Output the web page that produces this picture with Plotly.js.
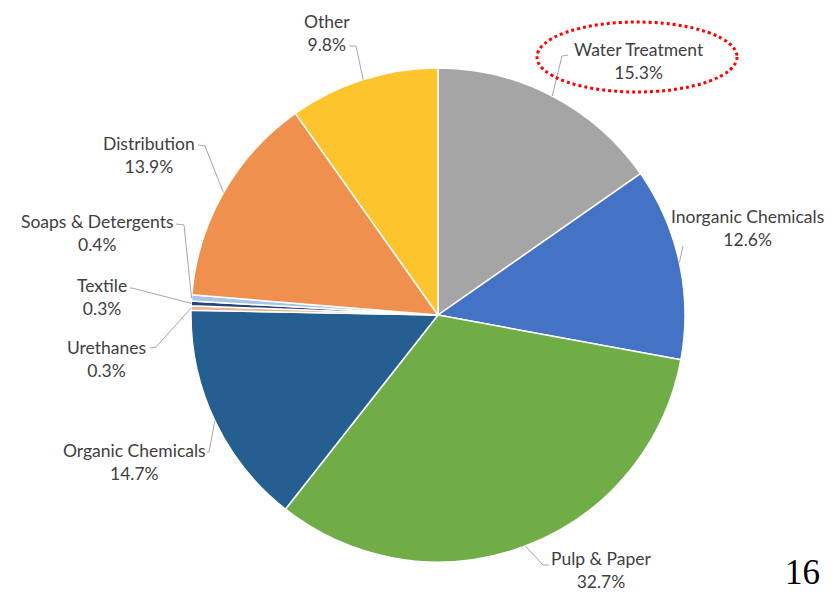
<!DOCTYPE html>
<html>
<head>
<meta charset="utf-8">
<script src="https://cdn.plot.ly/plotly-3.0.1.min.js"></script>
<style>html,body{margin:0;padding:0;background:#fff;}#chart{width:837px;height:593px;}</style>
</head>
<body>
<div id="chart"></div>
<script>
// ---- data ----
const categories = ['Water Treatment','Inorganic Chemicals','Pulp & Paper','Organic Chemicals','Urethanes','Textile','Soaps & Detergents','Distribution','Other'];
const shares = [15.3, 12.6, 32.7, 14.7, 0.3, 0.3, 0.4, 13.9, 9.8];
const sliceColors = ['#A5A5A5','#4472C4','#70AD47','#255E91','#E9B48F','#264478','#A9C4E4','#F0904E','#FEC42E'];
const pageNumber = '16';

// ---- layout helpers ----
const W = 837, H = 593;
const cx = 438, cy = 315, R = 247;
const px = x => x / W;
const py = y => 1 - y / H;

// label placement (pixel centres of label blocks), elbow and anchor of leader lines
const labelPlacement = [
  {c:[639,61],  elbow:[562,56],  anchor:[568,55]},
  {c:[747,228], elbow:[683,246], anchor:[683,246]},
  {c:[601,570], elbow:[543,565], anchor:[549,565]},
  {c:[134,462], elbow:[209,452], anchor:[207,452]},
  {c:[106,359], elbow:[156,347], anchor:[150,348]},
  {c:[102,297], elbow:[132,288], anchor:[130,288]},
  {c:[97,233],  elbow:[184,225], anchor:[176,224]},
  {c:[149,155], elbow:[205,146], anchor:[198,145]},
  {c:[327,33],  elbow:[356,46],  anchor:[349,46]}
];

const total = shares.reduce((a,b)=>a+b,0);
let cum = 0;
const annotations = [];
const shapes = [];
categories.forEach((cat, i) => {
  const mid = (cum + shares[i]/2) / total * 2 * Math.PI;
  cum += shares[i];
  const ex = cx + R * Math.sin(mid);
  const ey = cy - R * Math.cos(mid);
  const p = labelPlacement[i];
  shapes.push({
    type:'path', xref:'paper', yref:'paper',
    path:`M ${px(ex)} ${py(ey)} L ${px(p.elbow[0])} ${py(p.elbow[1])} L ${px(p.anchor[0])} ${py(p.anchor[1])}`,
    line:{color:'#A6A6A6', width:1}
  });
  annotations.push({
    xref:'paper', yref:'paper', x:px(p.c[0]), y:py(p.c[1]),
    xanchor:'center', yanchor:'middle', showarrow:false, align:'center', borderpad:0,
    text: cat + '<br>' + shares[i].toFixed(1) + '%',
    font:{family:'Lato, "Open Sans", sans-serif', size:17.5, color:'#404040'}
  });
});

// red dotted ellipse around Water Treatment label
shapes.push({
  type:'circle', xref:'paper', yref:'paper',
  x0:px(537), x1:px(737), y0:py(92), y1:py(22),
  line:{color:'#FF0000', width:3, dash:'dot'}
});

annotations.push({
  xref:'paper', yref:'paper', x:px(802), y:0,
  xanchor:'center', yanchor:'bottom', showarrow:false, borderpad:0,
  text: pageNumber,
  font:{family:'"Liberation Serif", "DejaVu Serif", serif', size:35, color:'#000'}
});

const trace = {
  type:'pie',
  labels: categories,
  values: shares,
  sort:false,
  direction:'clockwise',
  rotation:0,
  textinfo:'none',
  hoverinfo:'label+percent',
  marker:{colors:sliceColors, line:{color:'#FFFFFF', width:1.5}},
  domain:{x:[px(cx-R), px(cx+R)], y:[py(cy+R), py(cy-R)]},
  showlegend:false
};

const layout = {
  width:W, height:H,
  margin:{l:0,r:0,t:0,b:0},
  paper_bgcolor:'#FFFFFF',
  showlegend:false,
  shapes, annotations
};

Plotly.newPlot('chart', [trace], layout, {displayModeBar:false, staticPlot:true});
</script>
</body>
</html>
